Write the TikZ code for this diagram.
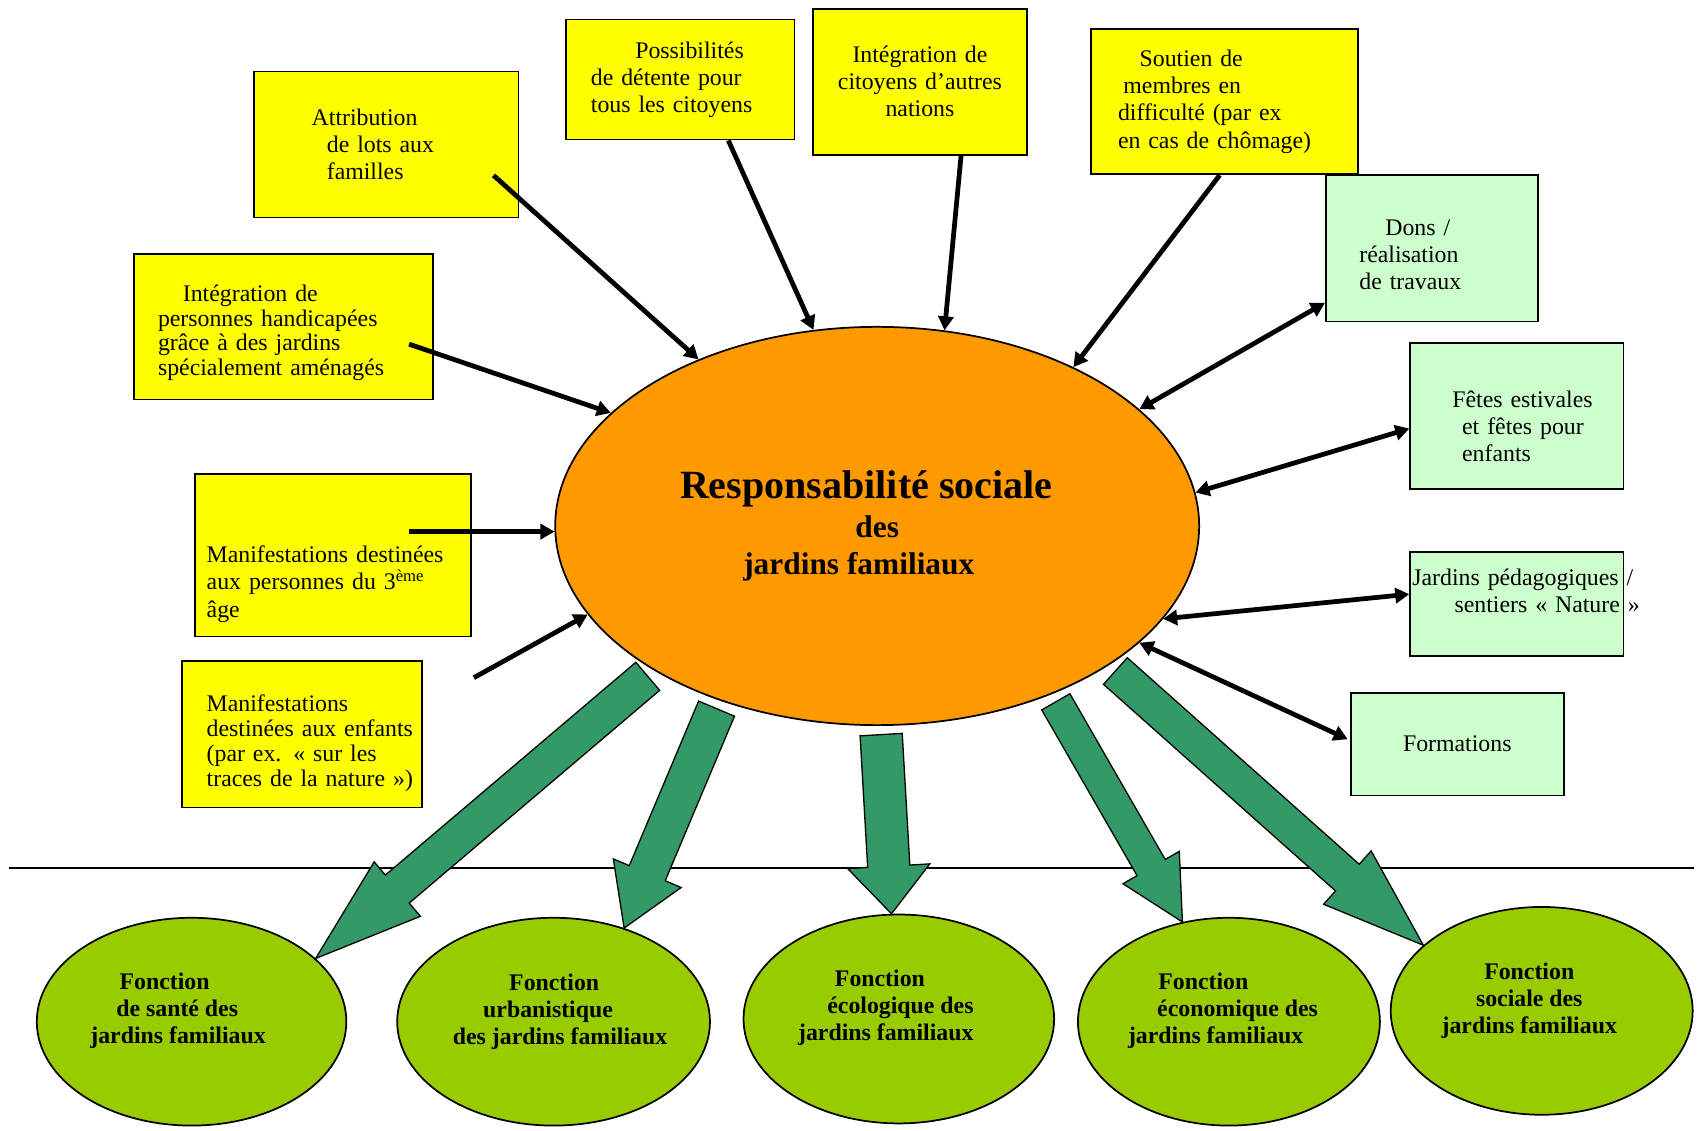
\documentclass[tikz,border=0pt]{standalone}
\usepackage{fontspec}
\setmainfont{Liberation Serif}
\usetikzlibrary{positioning,calc,arrows.meta,shapes.geometric}

\definecolor{boxyellow}{HTML}{FFFF00}
\definecolor{boxmint}{HTML}{CCFFCC}
\definecolor{coreorange}{HTML}{FF9900}
\definecolor{funcgreen}{HTML}{99CC00}
\definecolor{arrowgreen}{HTML}{339966}

\tikzset{
  card/.style={rectangle, draw, line width=0.8pt, inner sep=0pt, font=\fontsize{11}{12.5}\selectfont},
  ycard/.style={card, fill=boxyellow},
  gcard/.style={card, fill=boxmint},
  pad/.style={execute at begin node={\leftskip=#1\relax}},
  core/.style={ellipse, draw, line width=0.8pt, fill=coreorange, inner sep=0pt, align=center,
    font=\bfseries\fontsize{14.5}{17}\selectfont},
  func/.style={ellipse, draw, line width=0.8pt, fill=funcgreen, inner sep=0pt, minimum height=96pt},
  functext/.style={align=left, font=\bfseries\fontsize{11}{12.5}\selectfont},
  feed/.style={line width=2.2pt, -{Triangle[length=6.5pt,width=7pt]}},
  link/.style={line width=2.2pt, {Triangle[length=6.5pt,width=7pt]}-{Triangle[length=6.5pt,width=7pt]}},
}

% wide green arrow: tail, tip, shaft half width, head half width, head length (px)
\newcommand{\fatarrow}[5]{%
  \path ($(#2)!#5*0.5pt!(#1)$) coordinate (hb);
  \draw[fill=arrowgreen, line width=0.6pt]
    ($(#1)!#3*0.5pt!90:(#2)$) -- ($(hb)!#3*0.5pt!90:(#2)$) -- ($(hb)!#4*0.5pt!90:(#2)$) -- (#2)
    -- ($(hb)!#4*0.5pt!-90:(#2)$) -- ($(hb)!#3*0.5pt!-90:(#2)$) -- ($(#1)!#3*0.5pt!-90:(#2)$) -- cycle;}

\begin{document}
\begin{tikzpicture}[x=0.5pt, y=-0.5pt]
\useasboundingbox (0,0) rectangle (1568,1045);

% yellow boxes
\node[ycard, minimum width=122pt, minimum height=67.5pt, text width=122pt, align=left, pad=26.5pt] (lots) at (357,133.5)
  {Attribution\\ \hspace*{7pt}de lots aux\\ \hspace*{7pt}familles};
\node[ycard, minimum width=105.5pt, minimum height=55.5pt, text width=105.5pt, align=left, pad=11.5pt] (detente) at (628.5,73.5)
  {\hspace*{20.5pt}Possibilités\\ de détente pour\\ tous les citoyens};
\node[ycard, minimum width=99pt, minimum height=67.5pt, text width=99pt, align=center] (nations) at (850,75.5)
  {Intégration de\\ citoyens d’autres\\ nations};
\node[ycard, minimum width=123.5pt, minimum height=67pt, text width=123.5pt, align=left, pad=12.5pt] (soutien) at (1131.5,94)
  {\hspace*{10pt}Soutien de\\ \hspace*{2.5pt}membres en\\ difficulté (par ex\\ en cas de chômage)};
\node[ycard, minimum width=138pt, minimum height=67pt, text width=138pt, align=left, pad=11pt,
  font=\fontsize{11}{11.4}\selectfont] (handi) at (262,302)
  {\mbox{}\\[1.6pt]\hspace*{11.5pt}Intégration de\\ personnes handicapées\\ grâce à des jardins\\ spécialement aménagés};
\node[ycard, minimum width=127.5pt, minimum height=75pt, text width=127.5pt, align=left, pad=5.5pt] (age) at (307.5,513)
  {\mbox{}\\[22pt]Manifestations destinées\\ aux personnes du 3\textsuperscript{ème}\\ âge};
\node[ycard, minimum width=111pt, minimum height=67.5pt, text width=111pt, align=left, pad=11.5pt,
  font=\fontsize{11}{11.5}\selectfont] (enfants) at (279,678.5)
  {\mbox{}\\[4.5pt]Manifestations\\ destinées aux enfants\\ (par ex. « sur les\\ traces de la nature »)};

% green boxes
\node[gcard, minimum width=98pt, minimum height=67.5pt, text width=98pt, align=left, pad=15.5pt] (dons) at (1323,229.5)
  {\mbox{}\\[1pt]\hspace*{12pt}Dons /\\ réalisation\\ de travaux};
\node[gcard, minimum width=98.5pt, minimum height=67.5pt, text width=98.5pt, align=left, pad=19.5pt] (fetes) at (1401.5,384.5)
  {\mbox{}\\[4.5pt]Fêtes estivales\\ \hspace*{4.5pt}et fêtes pour\\ \hspace*{4.5pt}enfants};
\node[gcard, minimum width=98.5pt, minimum height=48pt, text width=98.5pt, align=left, pad=1pt] (jped) at (1401.5,558)
  {\mbox{Jardins pédagogiques /}\\ \hspace*{19.5pt}\mbox{sentiers « Nature »}\\ \mbox{}};
\node[gcard, minimum width=98.5pt, minimum height=47.5pt, align=center] (form) at (1346.5,687.5) {Formations};

% centre
\node[core, minimum width=297.5pt, minimum height=184pt] (resp) at (810.5,486)
  {{\fontsize{18.5}{20}\selectfont Responsabilité sociale\kern10pt}\\[1pt] des\\ jardins familiaux\kern17pt};

\path[feed]
  ($(lots.center)+(99,28.5)$) edge (resp.137)
  ($(detente.south)+(44.5,0)$) edge (resp.108)
  ($(nations.south)+(38,0)$) edge (resp.71)
  ($(soutien.south)+(-4.5,0)$) edge (resp.39)
  ($(handi.center)+(116,16)$) edge (resp.157)
  ($(age.center)+(70.5,-22)$) edge (resp.181)
  ($(enfants.north east)+(47,16)$) edge (resp.197);
\path[link]
  (resp.24) edge ($(dons.south west)+(0,-18)$)
  (resp.6) edge ($(fetes.west)+(0,11.5)$)
  (resp.342) edge ($(jped.west)+(0,-9)$)
  (resp.336) edge ($(form.west)+(-2,-4.5)$);

\draw[line width=0.7pt] (8,802) -- (1565,802);

% functions
\node[func, minimum width=143pt] (sante) at (177,944) {};
\node[func, minimum width=144.5pt] (urba) at (511.5,944) {};
\node[func, minimum width=143.5pt, minimum height=96.5pt] (eco) at (830.5,941.5) {};
\node[func, minimum width=139.5pt] (econ) at (1135.5,944) {};
\node[func, minimum width=139.5pt] (soc) at (1424.5,934) {};

\node[functext] at ($(sante)+(-12.5,-10)$) {\hspace*{13.5pt}Fonction\\ \hspace*{12pt}de santé des\\ jardins familiaux};
\node[functext] at ($(urba)+(6,-9)$) {\hspace*{26pt}Fonction\\ \hspace*{14pt}urbanistique\\ des jardins familiaux};
\node[functext] at ($(eco)+(-12,-10)$) {\hspace*{17pt}Fonction\\ \hspace*{13.5pt}écologique des\\ jardins familiaux};
\node[functext] at ($(econ)+(-5.5,-10)$) {\hspace*{14pt}Fonction\\ \hspace*{13.5pt}économique des\\ jardins familiaux};
\node[functext, align=center] at ($(soc)+(-11.5,-9)$) {Fonction\\ sociale des\\ jardins familiaux};

\coordinate (t1) at ($(resp.213)!4pt!(sante.27)$);
\coordinate (t2) at ($(resp.228)!4pt!(urba.53)$);
\coordinate (t3) at ($(resp.271)!4pt!(eco.94)$);
\coordinate (t4) at ($(resp.316)!4pt!(econ.115)$);
\coordinate (t5) at ($(resp.329)!4pt!(soc.151)$);
\fatarrow{t1}{sante.27}{17}{33}{99}
\fatarrow{t2}{urba.53}{18}{34}{55}
\fatarrow{t3}{eco.94}{19.5}{38}{44}
\fatarrow{t4}{econ.115}{15}{30}{58}
\fatarrow{t5}{soc.151}{16.5}{33}{94}
\end{tikzpicture}
\end{document}
